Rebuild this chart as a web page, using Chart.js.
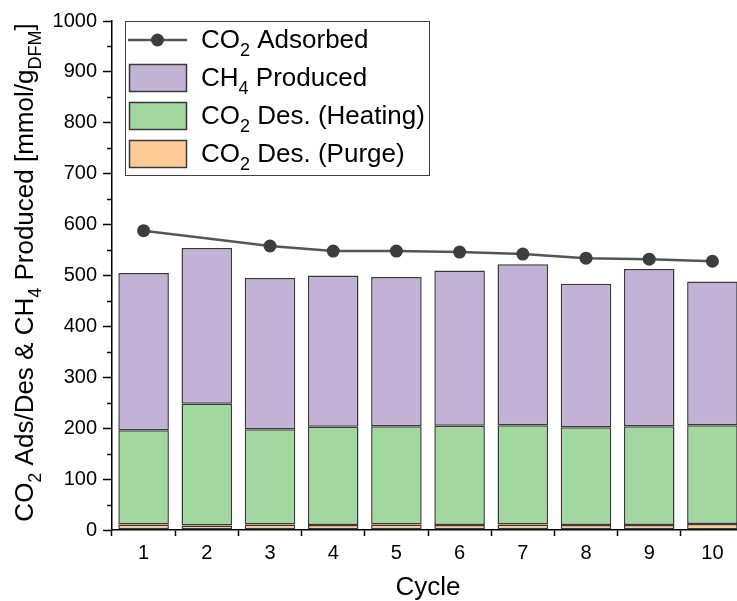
<!DOCTYPE html>
<html><head><meta charset="utf-8">
<script src="https://cdn.jsdelivr.net/npm/chart.js@4/dist/chart.umd.min.js"></script>
<style>html,body{margin:0;padding:0;overflow:hidden;background:#fff;width:737px;height:601px}canvas{display:block}</style>
</head><body><canvas id="c" width="760" height="601"></canvas>
<script>
// ---- data ----
const cycles = ['1','2','3','4','5','6','7','8','9','10'];
const co2Adsorbed   = [588, null, 558, 548, 548, 546, 542, 534, 532, 528];
const ch4Produced   = [309, 306, 297, 297, 293, 305, 316, 282, 309, 282];
const co2DesHeating = [185, 239, 187, 193, 193, 195, 195, 192, 194, 194];
const co2DesPurge   = [11, 9, 11, 10, 11, 10, 11, 10, 10, 12];
const yMajorTicks = [0,100,200,300,400,500,600,700,800,900,1000];
const yMinorTicks = [50,150,250,350,450,550,650,750,850,950];

const FONT = '"Liberation Sans", Arial, sans-serif';
const COL = {purple:'#C2B2D6', green:'#A2D7A0', orange:'#FECB96', edge:'#3a3a3a', line:'#555555', dot:'#3d3d3d'};

const legendItems = [
  {type:'line', parts:[{t:'CO'},{t:'2',sub:1},{t:' Adsorbed'}]},
  {type:'box', color:COL.purple, parts:[{t:'CH'},{t:'4',sub:1},{t:' Produced'}]},
  {type:'box', color:COL.green, parts:[{t:'CO'},{t:'2',sub:1},{t:' Des. (Heating)'}]},
  {type:'box', color:COL.orange, parts:[{t:'CO'},{t:'2',sub:1},{t:' Des. (Purge)'}]}
];
const yTitleParts = [{t:'CO'},{t:'2',sub:1},{t:' Ads/Des & CH'},{t:'4',sub:1},{t:' Produced [mmol/g'},{t:'DFM',sub:1},{t:']'}];

function richWidth(ctx, parts, size){
  let w=0;
  for(const p of parts){ ctx.font = (p.sub? Math.round(size*0.7):size)+'px '+FONT; w+=ctx.measureText(p.t).width; }
  return w;
}
function drawRich(ctx, parts, x, y, size){
  ctx.textBaseline='alphabetic'; ctx.textAlign='left'; ctx.fillStyle='#000';
  for(const p of parts){
    const s = p.sub? Math.round(size*0.7):size;
    ctx.font = s+'px '+FONT;
    ctx.fillText(p.t, x, y + (p.sub? size*0.3:0));
    x += ctx.measureText(p.t).width;
  }
}

const decor = {
  id:'decor',
  afterDraw(chart){
    const ctx = chart.ctx, y = chart.scales.y, area = chart.chartArea;
    ctx.save();
    // minor ticks
    ctx.strokeStyle='#000'; ctx.lineWidth=1.5;
    for(const v of yMinorTicks){
      const py = Math.round(y.getPixelForValue(v))+0.5;
      ctx.beginPath(); ctx.moveTo(area.left-5, py); ctx.lineTo(area.left, py); ctx.stroke();
    }
    // y title
    const size=26;
    const w = richWidth(ctx, yTitleParts, size);
    ctx.translate(33, (area.top+area.bottom)/2 - 3);
    ctx.rotate(-Math.PI/2);
    drawRich(ctx, yTitleParts, -w/2, 0, size);
    ctx.restore();

    // legend
    ctx.save();
    const lx=125.5, ly=21.5, lw=304, lh=154;
    ctx.fillStyle='#fff'; ctx.fillRect(lx,ly,lw,lh);
    ctx.strokeStyle='#404040'; ctx.lineWidth=1; ctx.strokeRect(lx,ly,lw,lh);
    legendItems.forEach((it,i)=>{
      const cy = 40 + i*38;
      if(it.type==='line'){
        ctx.strokeStyle=COL.line; ctx.lineWidth=2.5;
        ctx.beginPath(); ctx.moveTo(128,cy); ctx.lineTo(187,cy); ctx.stroke();
        ctx.fillStyle=COL.dot; ctx.beginPath(); ctx.arc(157.5,cy,6.5,0,Math.PI*2); ctx.fill();
      } else {
        ctx.fillStyle=it.color; ctx.fillRect(129.5,cy-13.5,57,27);
        ctx.strokeStyle=COL.edge; ctx.lineWidth=1.5; ctx.strokeRect(129.5,cy-13.5,57,27);
      }
      drawRich(ctx, it.parts, 201, cy+8, 26);
    });
    ctx.restore();
  }
};

const barCommon = {type:'bar', borderColor:COL.edge, borderWidth:1.5, borderSkipped:false, stack:'des', order:1,
  categoryPercentage:1.0, barPercentage:0.8};

new Chart(document.getElementById('c'), {
  data:{
    labels: cycles,
    datasets:[
      {...barCommon, label:'CO2 Des. (Purge)', data:co2DesPurge, backgroundColor:COL.orange},
      {...barCommon, label:'CO2 Des. (Heating)', data:co2DesHeating, backgroundColor:COL.green},
      {...barCommon, label:'CH4 Produced', data:ch4Produced, backgroundColor:COL.purple},
      {type:'line', label:'CO2 Adsorbed', data:co2Adsorbed, stack:'ads', order:0, spanGaps:true,
       borderColor:COL.line, borderWidth:2.5, pointRadius:6.5, pointBackgroundColor:COL.dot,
       pointBorderColor:COL.dot, pointBorderWidth:0, tension:0}
    ]
  },
  options:{
    responsive:false, animation:false, devicePixelRatio:1,
    layout:{padding:{left:0, right:16, top:21, bottom:0}},
    plugins:{legend:{display:false}, tooltip:{enabled:false}},
    scales:{
      x:{stacked:true, offset:true,
        grid:{offset:true, drawOnChartArea:false, drawTicks:true, tickLength:6, tickColor:'#000', tickWidth:1.5},
        border:{color:'#000', width:1.5},
        ticks:{color:'#000', font:{family:FONT, size:20}, padding:5, maxRotation:0},
        title:{display:true, text:'Cycle', color:'#000', font:{family:FONT, size:26, lineHeight:1.0}, padding:{top:8,bottom:0}},
        afterFit(s){ s.height = 71; }
      },
      y:{stacked:true, min:0, max:1000,
        afterBuildTicks(s){ s.ticks = yMajorTicks.map(v=>({value:v})); },
        grid:{drawOnChartArea:false, drawTicks:true, tickLength:9, tickColor:'#000', tickWidth:1.5},
        border:{color:'#000', width:1.5},
        ticks:{color:'#000', font:{family:FONT, size:20}, padding:6, callback:(v)=>String(v)},
        afterFit(s){ s.width = 112; }
      }
    }
  },
  plugins:[decor]
});
</script></body></html>
